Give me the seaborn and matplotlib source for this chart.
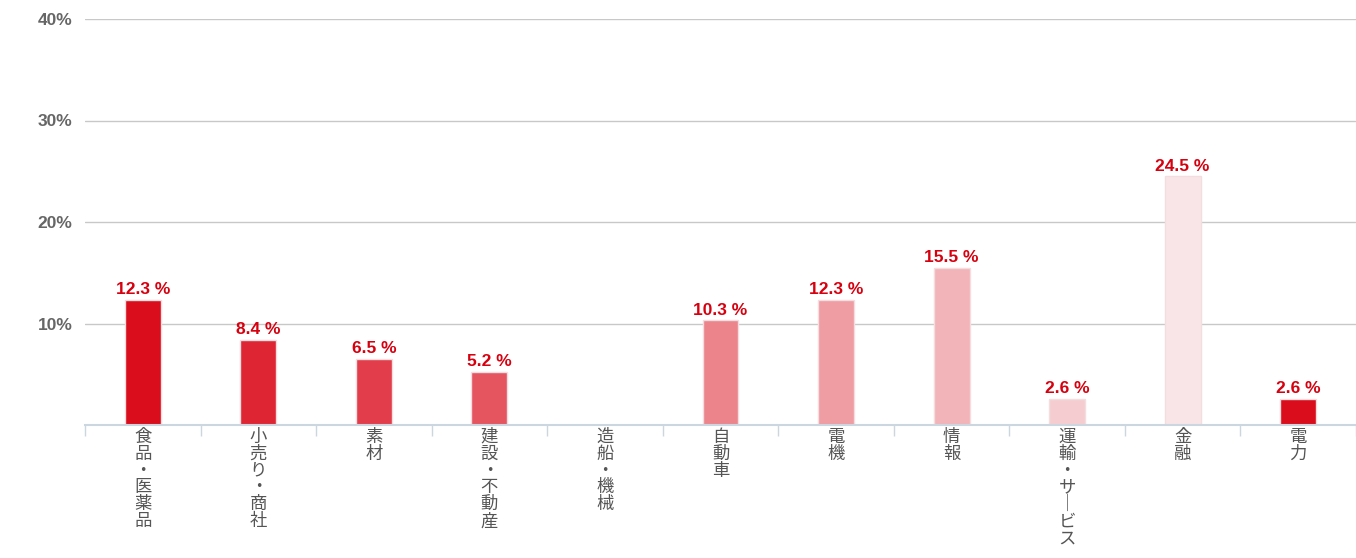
import matplotlib
matplotlib.use("Agg")
import matplotlib.pyplot as plt
import seaborn as sns
import pandas as pd
from matplotlib.ticker import FixedLocator

# Data
categories = ["食品・医薬品", "小売り・商社", "素材", "建設・不動産", "造船・機械",
              "自動車", "電機", "情報", "運輸・サービス", "金融", "電力"]
shares = [12.3, 8.4, 6.5, 5.2, 0.0, 10.3, 12.3, 15.5, 2.6, 24.5, 2.6]
bar_colors = ["#d90d1b", "#de2533", "#e23d4a", "#e55560", "#e86c76",
              "#ec848c", "#ef9ca2", "#f2b4b8", "#f5cdd0", "#f9e5e7", "#d90d1b"]
y_ticks = [10, 20, 30, 40]

sns.set_theme(style="white")
plt.rcParams["font.family"] = ["Liberation Sans", "Noto Sans CJK JP", "DejaVu Sans"]

df = pd.DataFrame({"category": categories, "share": shares})

fig = plt.figure(figsize=(13.56, 5.58), dpi=100)
ax = fig.add_axes([85 / 1356, 133 / 558, 1 - 85 / 1356, 406 / 558])

sns.barplot(data=df, x="category", y="share", hue="category",
            palette=bar_colors, saturation=1, legend=False, width=0.31,
            edgecolor="#f4dde0", linewidth=1, ax=ax)

ax.set_xlim(-0.5, len(categories) - 0.5)
ax.set_ylim(0, 40)

# grid
ax.set_yticks(y_ticks)
ax.set_yticklabels([f"{t}%" for t in y_ticks], fontsize=12.5,
                   fontweight="bold", color="#666666")
ax.yaxis.grid(True, color="#c8c8c8", linewidth=1)
ax.set_axisbelow(True)
ax.tick_params(axis="y", length=0, pad=9)

for s in ["top", "right", "left"]:
    ax.spines[s].set_visible(False)
ax.spines["bottom"].set_color("#ccd6e0")
ax.spines["bottom"].set_linewidth(1.5)

# vertical category labels
def vertical(label):
    return "\n".join("｜" if ch == "ー" else ch for ch in label)

ax.set_xticks(range(len(categories)))
ax.set_xticklabels([vertical(c) for c in categories], fontsize=12.5,
                   color="#555555", family=["Noto Sans CJK JP"],
                   va="top", linespacing=0.92)
ax.tick_params(axis="x", which="major", bottom=False, length=0, pad=2)
ax.xaxis.set_minor_locator(FixedLocator([i - 0.5 for i in range(len(categories) + 1)]))
ax.tick_params(axis="x", which="minor", bottom=True, length=8, width=1,
               color="#ccd6e0", direction="out")

ax.set_xlabel("")
ax.set_ylabel("")

# value labels
for i, v in enumerate(shares):
    if v > 0:
        ax.annotate(f"{v} %", (i, v), xytext=(0, 2), textcoords="offset points",
                    ha="center", va="bottom", fontsize=12.5, fontweight="bold",
                    color="#d7000f")

fig.savefig("out.png", dpi=100)
